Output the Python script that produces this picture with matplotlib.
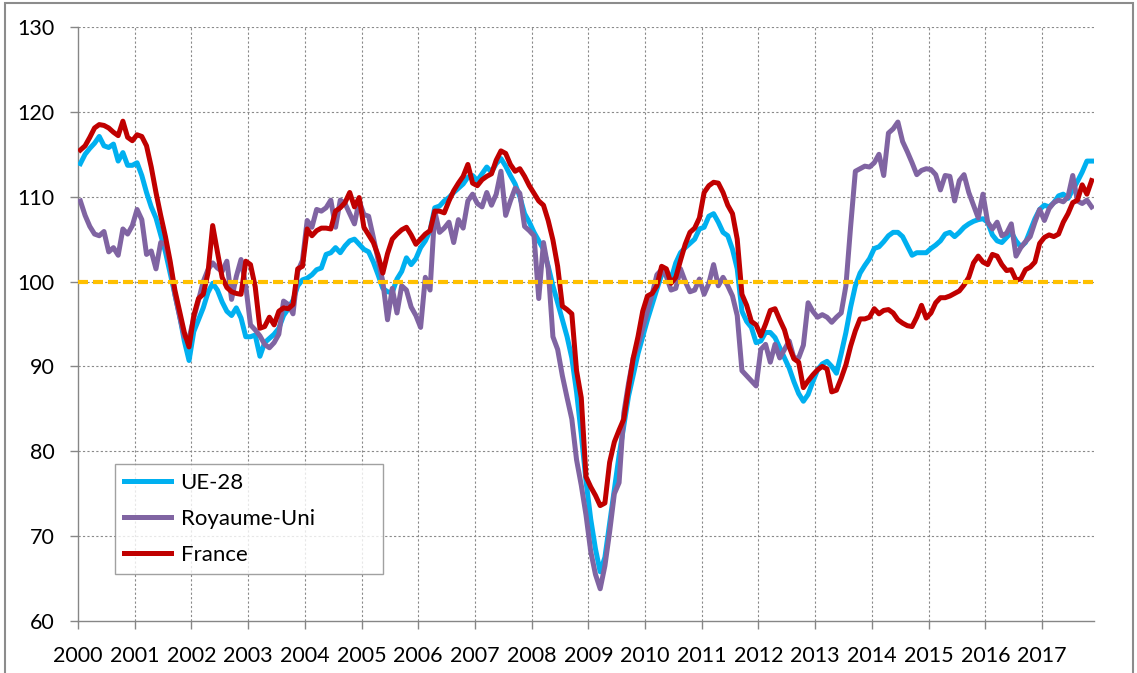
import numpy as np
import matplotlib
matplotlib.use("Agg")
import matplotlib.pyplot as plt
from matplotlib.patches import Rectangle

plt.rcParams['font.family'] = ['Lato', 'DejaVu Sans']

# monthly index values, Jan 2000 - Nov 2017
ue28 = [
    113.9, 115.0, 115.7, 116.3, 117.1, 116.0, 115.8, 116.2, 114.2, 115.2, 113.7, 113.7,  # 2000
    114.0, 112.5, 110.5, 108.8, 107.5, 105.5, 103.5, 101.0, 98.5, 96.0, 93.0, 90.7,  # 2001
    94.1, 95.5, 96.9, 98.7, 99.8, 99.0, 97.6, 96.5, 96.0, 96.9, 95.7, 93.5,  # 2002
    93.5, 93.7, 91.2, 92.8, 93.3, 93.8, 94.5, 96.0, 96.8, 97.8, 99.5, 100.2,  # 2003
    100.4, 100.8, 101.4, 101.6, 103.2, 103.4, 104.0, 103.4, 104.2, 104.8, 105.0, 104.4,  # 2004
    103.8, 103.5, 102.3, 100.8, 99.2, 98.8, 98.7, 100.3, 101.2, 102.8, 102.0, 102.7,  # 2005
    104.0, 104.8, 106.0, 108.7, 108.9, 109.5, 109.9, 110.5, 111.0, 111.5, 112.3, 112.5,  # 2006
    111.9, 112.7, 113.5, 112.9, 113.9, 114.5, 113.6, 112.5, 111.5, 110.0, 108.0, 107.0,  # 2007
    105.8, 104.8, 103.8, 101.8, 99.5, 97.5, 95.5, 93.5, 91.0, 87.0, 82.0, 76.5,  # 2008
    72.0, 68.5, 65.8, 67.5, 71.5, 75.5, 79.5, 83.0, 86.5, 89.0, 91.5, 93.5,  # 2009
    95.5, 97.3, 99.1, 100.8, 101.3, 100.3, 102.2, 103.4, 104.0, 104.5, 105.0, 106.2,  # 2010
    106.4, 107.7, 108.0, 107.0, 105.8, 105.4, 103.8, 101.5, 96.5, 95.3, 94.6, 92.8,  # 2011
    93.0, 94.0, 94.0, 93.4, 92.2, 91.0, 89.8, 88.2, 86.8, 85.9, 86.7, 88.2,  # 2012
    89.6, 90.3, 90.6, 90.0, 89.2, 91.5, 94.0, 97.0, 99.5, 101.0, 101.9, 102.7,  # 2013
    103.9, 104.1, 104.7, 105.4, 105.8, 105.8, 105.3, 104.2, 103.1, 103.4, 103.4, 103.4,  # 2014
    103.9, 104.3, 104.8, 105.6, 105.8, 105.3, 105.8, 106.4, 106.8, 107.1, 107.3, 107.4,  # 2015
    107.0, 105.5, 104.8, 104.6, 105.2, 105.8, 104.8, 104.1, 104.6, 106.0, 107.4, 108.5,  # 2016
    109.0, 108.8, 109.3, 110.1, 110.3, 109.8, 110.8, 111.8, 112.9, 114.2, 114.2,  # 2017
]

royaume_uni = [
    109.5, 107.8, 106.5, 105.6, 105.4, 105.9, 103.5, 104.0, 103.1, 106.2, 105.6, 106.6,
    108.5, 107.3, 103.2, 103.6, 101.5, 104.6, 104.4, 102.0, 98.5, 95.9, 93.5, 93.3,
    95.7, 97.8, 100.0, 101.4, 102.2, 101.6, 101.2, 102.4, 97.9, 100.6, 102.6, 99.5,
    94.9, 94.3, 93.6, 92.6, 92.2, 92.8, 93.8, 97.7, 97.3, 96.2, 101.2, 102.5,
    107.2, 106.4, 108.5, 108.3, 108.7, 109.6, 106.4, 109.6, 109.2, 108.0, 106.8, 109.5,
    107.9, 107.7, 105.2, 102.6, 100.0, 95.5, 99.2, 96.3, 99.5, 99.0, 97.0, 96.0,
    94.6, 100.5, 99.0, 108.3, 105.8, 106.3, 107.0, 104.6, 107.3, 106.3, 109.5, 110.3,
    109.2, 108.8, 110.5, 109.0, 110.3, 113.0, 107.8, 109.5, 111.0, 110.4, 106.5, 106.0,
    105.4, 98.0, 104.6, 101.5, 93.5, 92.0, 88.9, 86.3, 83.8, 79.0, 76.0, 72.5,
    68.2, 65.5, 63.8, 66.5, 70.5, 75.0, 76.3, 84.5, 88.0, 91.0, 92.5, 94.5,
    96.5, 98.5, 100.8, 101.4, 100.6, 99.0, 99.2, 101.5, 100.0, 98.8, 99.0, 100.3,
    98.5, 99.8, 102.0, 99.5, 100.5, 99.5, 98.3, 96.0, 89.5, 88.9, 88.3, 87.7,
    92.0, 92.6, 90.5, 92.6, 91.0, 92.0, 93.0, 91.0, 91.0, 92.5, 97.5, 96.5,
    95.8, 96.1, 95.8, 95.2, 95.8, 96.3, 99.5, 106.5, 113.0, 113.3, 113.6, 113.5,
    114.0, 115.0, 112.5, 117.5, 118.0, 118.8, 116.5, 115.3, 114.0, 112.6, 113.1, 113.3,
    113.2, 112.6, 110.8, 112.5, 112.4, 109.5, 111.9, 112.6, 110.5, 109.0, 107.5, 110.3,
    107.0, 106.2, 107.0, 105.4, 105.7, 106.8, 103.0, 104.0, 104.7, 105.3, 107.0, 108.5,
    107.2, 108.6, 109.3, 109.6, 109.4, 110.0, 112.5, 109.5, 109.2, 109.6, 108.8,
]

france = [
    115.5, 116.0, 117.0, 118.1, 118.5, 118.4, 118.1, 117.6, 117.2, 118.9, 117.0, 116.6,
    117.3, 117.1, 116.0, 113.5, 110.5, 107.8, 105.3, 102.4, 99.0, 96.5, 94.0, 92.3,
    96.0, 98.0, 98.5, 101.0, 106.6, 103.5, 100.5, 99.3, 98.8, 98.6, 98.5, 102.4,
    102.0, 99.4, 94.5, 94.7, 95.8, 94.9, 96.5, 96.9, 96.8, 97.3, 101.5, 101.8,
    106.2, 105.4, 106.0, 106.3, 106.3, 106.2, 108.3, 108.7, 109.3, 110.5, 108.8, 109.9,
    106.4, 105.5, 104.6, 103.1, 101.0, 103.3, 105.0, 105.6, 106.1, 106.4, 105.5, 104.4,
    105.0, 105.6, 106.0, 108.3, 108.3, 108.1, 109.5, 110.7, 111.6, 112.4, 113.8, 111.6,
    111.3, 112.0, 112.4, 112.7, 114.3, 115.4, 115.1, 113.8, 113.0, 113.3, 112.4, 111.3,
    110.4, 109.5, 109.0, 107.2, 104.9, 101.8, 97.1, 96.7, 96.2, 89.5, 86.3, 77.0,
    75.8, 74.8, 73.6, 73.9, 78.7, 81.1, 82.5, 83.8, 87.5, 91.0, 93.5, 96.5,
    98.3, 98.6, 99.5, 101.8, 101.5, 99.8, 100.5, 102.5, 104.4, 105.8, 106.3, 107.5,
    110.5, 111.3, 111.7, 111.6, 110.5, 109.0, 108.0, 105.0, 98.5, 97.2, 95.3, 94.9,
    93.6, 95.0, 96.6, 96.8, 95.5, 94.3, 92.3, 90.9, 90.5, 87.5, 88.3, 89.0,
    89.6, 90.0, 89.7, 87.0, 87.2, 88.6, 90.2, 92.4, 94.2, 95.6, 95.6, 95.8,
    96.8, 96.2, 96.6, 96.7, 96.3, 95.5, 95.1, 94.8, 94.7, 95.8, 97.2, 95.7,
    96.3, 97.5, 98.1, 98.1, 98.3, 98.6, 98.9, 99.6, 100.5, 102.2, 103.0, 102.3,
    102.0, 103.2, 103.0, 102.0, 101.3, 101.4, 100.2, 100.3, 101.4, 101.7, 102.3, 104.5,
    105.2, 105.5, 105.3, 105.6, 107.0, 108.0, 109.3, 109.6, 111.4, 110.3, 111.9,
]

years = list(range(2000, 2018))
n = len(ue28)
x = 2000 + (np.arange(n) + 0.5) / 12.0

fig = plt.figure(figsize=(11.37, 6.73), dpi=100)
ax = fig.add_axes([78 / 1137, 52 / 673, 1016 / 1137, 594 / 673])

grid_col = '#8a8a8a'
ax.set_xlim(2000, 2000 + n / 12.0)
ax.set_ylim(60, 130)
ax.set_yticks(range(60, 131, 10))
ax.set_xticks(years)
ax.set_xticklabels([str(y) for y in years])

for v in range(70, 131, 10):
    ax.axhline(v, color=grid_col, lw=0.8, ls=(0, (2, 2)), zorder=1)
for y in years[1:]:
    ax.axvline(y, color=grid_col, lw=0.8, ls=(0, (2, 2)), zorder=1)

ax.plot(x, ue28, color='#00B0F0', lw=3.6, label='UE-28', zorder=3, solid_joinstyle='round')
ax.plot(x, royaume_uni, color='#8064A2', lw=3.6, label='Royaume-Uni', zorder=4, solid_joinstyle='round')
ax.plot(x, france, color='#C00000', lw=3.6, label='France', zorder=5, solid_joinstyle='round')
ax.axhline(100, color='#FFC000', lw=3, ls=(0, (2.4, 1.2)), zorder=6)

for s in ['top', 'right']:
    ax.spines[s].set_visible(False)
for s in ['left', 'bottom']:
    ax.spines[s].set_color('#868686')
    ax.spines[s].set_linewidth(1)

ax.tick_params(axis='both', colors='#868686', labelcolor='black', labelsize=15.5,
               length=6, width=1, direction='out')
ax.tick_params(axis='y', pad=11)
ax.tick_params(axis='x', pad=12)

leg = ax.legend(loc='lower left', bbox_to_anchor=(0.0364, 0.079, 0.2638, 0.187),
                mode='expand', fontsize=16, frameon=True, fancybox=False,
                handlelength=2.1, handletextpad=0.45, labelspacing=0.72,
                borderpad=0.4, borderaxespad=0)
leg.get_frame().set_edgecolor('#8a8a8a')
leg.get_frame().set_linewidth(1)
leg.set_zorder(10)

# outer chart frame
fig.patches.append(Rectangle((5 / 1137, -0.05), 1128 / 1137, 1 - 3 / 673 + 0.05,
                             transform=fig.transFigure, fill=False,
                             edgecolor='#8c8c8c', lw=1.5, clip_on=False))

fig.savefig('out.png', dpi=100)
